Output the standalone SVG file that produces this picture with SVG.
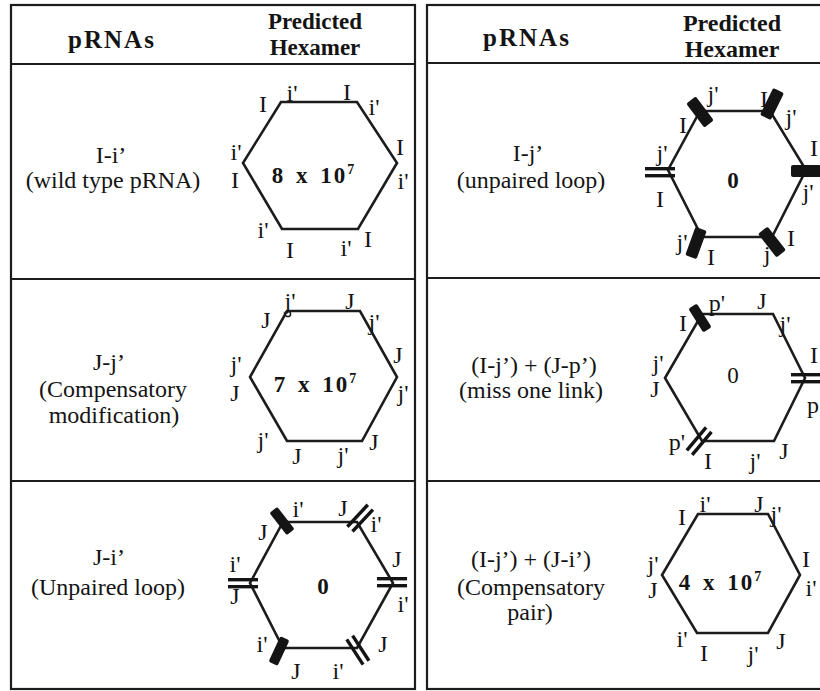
<svg xmlns="http://www.w3.org/2000/svg" xmlns:xlink="http://www.w3.org/1999/xlink" width="820" height="691" viewBox="0 0 820 691">
<style>
.frame{fill:none;stroke:#1c1c1c;stroke-width:2.2}
.hex{fill:none;stroke:#1c1c1c;stroke-width:2.6;stroke-linejoin:miter}
text{font-family:"Liberation Serif","Times New Roman",serif;fill:#141414;text-anchor:middle}
.hdr{font-size:23px;font-weight:bold}
.body{font-size:24px}
.lbl{font-size:24px}
.num{font-size:23px;font-weight:bold;letter-spacing:2px;word-spacing:3px}
.mk{fill:#141414}
</style>
<defs>
<g id="bar"><rect class="mk" x="-14" y="-5" width="28" height="10" rx="2"/></g>
<g id="wbar"><rect class="mk" x="-15" y="-6" width="30" height="12" rx="2"/></g>
<g id="dbl"><rect class="mk" x="-15" y="-5" width="30" height="3.4"/><rect class="mk" x="-15" y="2" width="30" height="3.4"/></g>
</defs>
<rect width="820" height="691" fill="#ffffff"/>

<g id="frames">
<rect class="frame" x="11" y="5" width="404" height="684"/>
<line class="frame" x1="11" y1="64" x2="415" y2="64"/>
<line class="frame" x1="11" y1="279" x2="415" y2="279"/>
<line class="frame" x1="11" y1="481" x2="415" y2="481"/>
<rect class="frame" x="427" y="5" width="410" height="684"/>
<line class="frame" x1="427" y1="63" x2="820" y2="63"/>
<line class="frame" x1="427" y1="278" x2="820" y2="278"/>
<line class="frame" x1="427" y1="481" x2="820" y2="481"/>
</g>

<g id="header-left">
<text class="hdr" x="112" y="48" style="font-size:25px;letter-spacing:2px">pRNAs</text>
<text class="hdr" x="315" y="29">Predicted</text>
<text class="hdr" x="315" y="55">Hexamer</text>
</g>
<g id="header-right">
<text class="hdr" x="527" y="46" style="font-size:25px;letter-spacing:2px">pRNAs</text>
<text class="hdr" x="732" y="31" style="font-size:24px;font-weight:600">Predicted</text>
<text class="hdr" x="732" y="57" style="font-size:24px;font-weight:600">Hexamer</text>
</g>

<g id="row1-left">
<text class="body" x="111" y="163">I-i’</text>
<text class="body" x="113" y="188">(wild type pRNA)</text>
<polygon class="hex" points="281,102 357,102 397,163 358,229 282,229 243,163"/>
<text class="num" x="314" y="183">8 x 10<tspan dy="-9" font-size="14">7</tspan></text>
<text class="lbl" x="263" y="112">I</text>
<text class="lbl" x="292" y="101">i'</text>
<text class="lbl" x="347" y="100">I</text>
<text class="lbl" x="374" y="115">i'</text>
<text class="lbl" x="400" y="155">I</text>
<text class="lbl" x="403" y="189">i'</text>
<text class="lbl" x="236" y="160">i'</text>
<text class="lbl" x="235" y="188">I</text>
<text class="lbl" x="263" y="238">i'</text>
<text class="lbl" x="290" y="258">I</text>
<text class="lbl" x="346" y="256">i'</text>
<text class="lbl" x="368" y="247">I</text>
</g>

<g id="row2-left">
<text class="body" x="109" y="370">J-j’</text>
<text class="body" x="113" y="397">(Compensatory</text>
<text class="body" x="114" y="423">modification)</text>
<polygon class="hex" points="287,311 360,311 397,377 362,441 287,441 250,377"/>
<circle cx="288" cy="314" r="2.6" fill="#fff" stroke="#1c1c1c" stroke-width="1.5"/>
<text class="num" x="316" y="392">7 x 10<tspan dy="-9" font-size="14">7</tspan></text>
<text class="lbl" x="266" y="328">J</text>
<text class="lbl" x="290" y="309">j'</text>
<text class="lbl" x="350" y="309">J</text>
<text class="lbl" x="374" y="330">j'</text>
<text class="lbl" x="398" y="363">J</text>
<text class="lbl" x="403" y="401">j'</text>
<text class="lbl" x="236" y="372">j'</text>
<text class="lbl" x="235" y="401">J</text>
<text class="lbl" x="263" y="448">j'</text>
<text class="lbl" x="297" y="464">J</text>
<text class="lbl" x="343" y="463">j'</text>
<text class="lbl" x="374" y="450">J</text>
</g>

<g id="row3-left">
<text class="body" x="109" y="565">J-i’</text>
<text class="body" x="108" y="595">(Unpaired loop)</text>
<polygon class="hex" points="283,522 357,522 393,583 357,648 283,648 250,583"/>
<use xlink:href="#bar" transform="translate(282,521) rotate(52)"/>
<use xlink:href="#dbl" transform="translate(360,518) rotate(-47)"/>
<use xlink:href="#dbl" transform="translate(392,582)"/>
<use xlink:href="#dbl" transform="translate(243,583)"/>
<use xlink:href="#bar" transform="translate(279,651) rotate(-65)"/>
<use xlink:href="#dbl" transform="translate(358,650) rotate(57)"/>
<text class="num" x="324" y="594">0</text>
<text class="lbl" x="263" y="540">J</text>
<text class="lbl" x="298" y="517">i'</text>
<text class="lbl" x="343" y="516">J</text>
<text class="lbl" x="376" y="532">i'</text>
<text class="lbl" x="397" y="567">J</text>
<text class="lbl" x="403" y="612">i'</text>
<text class="lbl" x="235" y="572">i'</text>
<text class="lbl" x="235" y="604">J</text>
<text class="lbl" x="262" y="652">i'</text>
<text class="lbl" x="296" y="679">J</text>
<text class="lbl" x="338" y="679">i'</text>
<text class="lbl" x="383" y="652">J</text>
</g>

<g id="row1-right">
<text class="body" x="528" y="161">I-j’</text>
<text class="body" x="531" y="188">(unpaired loop)</text>
<polygon class="hex" points="700,111 770,111 806,170 772,237 702,237 668,170"/>
<use xlink:href="#wbar" transform="translate(700,112) rotate(53)"/>
<use xlink:href="#wbar" transform="translate(772,104) rotate(-64)"/>
<use xlink:href="#dbl" transform="translate(660,172)"/>
<use xlink:href="#wbar" transform="translate(806,171)"/>
<use xlink:href="#wbar" transform="translate(696,243) rotate(-70)"/>
<use xlink:href="#wbar" transform="translate(772,242) rotate(52)"/>
<text class="num" x="734" y="188">0</text>
<text class="lbl" x="683" y="133">I</text>
<text class="lbl" x="713" y="102">j'</text>
<text class="lbl" x="764" y="107">I</text>
<text class="lbl" x="791" y="125">j'</text>
<text class="lbl" x="814" y="156">I</text>
<text class="lbl" x="808" y="200">j'</text>
<text class="lbl" x="662" y="161">j'</text>
<text class="lbl" x="660" y="207">I</text>
<text class="lbl" x="682" y="250">j'</text>
<text class="lbl" x="711" y="265">I</text>
<text class="lbl" x="767" y="262">j</text>
<text class="lbl" x="791" y="246">I</text>
</g>

<g id="row2-right">
<text class="body" x="534" y="373">(I-j’) + (J-p’)</text>
<text class="body" x="531" y="398">(miss one link)</text>
<polygon class="hex" points="702,314 773,314 805,378 774,441 702,441 665,378"/>
<use xlink:href="#bar" transform="translate(700,318) rotate(58)"/>
<use xlink:href="#dbl" transform="translate(699,441) rotate(-50)"/>
<use xlink:href="#dbl" transform="translate(806,378)"/>
<text class="num" x="734" y="383" style="font-weight:normal">0</text>
<text class="lbl" x="683" y="331">I</text>
<text class="lbl" x="717" y="311">p'</text>
<text class="lbl" x="762" y="309">J</text>
<text class="lbl" x="785" y="332">j'</text>
<text class="lbl" x="814" y="363">I</text>
<text class="lbl" x="813" y="413">p</text>
<text class="lbl" x="658" y="371">j'</text>
<text class="lbl" x="655" y="397">J</text>
<text class="lbl" x="677" y="450">p'</text>
<text class="lbl" x="708" y="469">I</text>
<text class="lbl" x="755" y="469">j'</text>
<text class="lbl" x="784" y="459">J</text>
</g>

<g id="row3-right">
<text class="body" x="531" y="567">(I-j’) + (J-i’)</text>
<text class="body" x="531" y="595">(Compensatory</text>
<text class="body" x="530" y="620">pair)</text>
<polygon class="hex" points="698,514 768,514 800,575 768,633 697,633 662,575"/>
<text class="num" x="721" y="590">4 x 10<tspan dy="-9" font-size="14">7</tspan></text>
<text class="lbl" x="682" y="525">I</text>
<text class="lbl" x="705" y="512">i'</text>
<text class="lbl" x="759" y="512">J</text>
<text class="lbl" x="776" y="522">j'</text>
<text class="lbl" x="806" y="567">I</text>
<text class="lbl" x="811" y="596">i'</text>
<text class="lbl" x="653" y="572">j'</text>
<text class="lbl" x="653" y="598">J</text>
<text class="lbl" x="682" y="647">i'</text>
<text class="lbl" x="704" y="661">I</text>
<text class="lbl" x="753" y="662">j'</text>
<text class="lbl" x="781" y="649">J</text>
</g>
</svg>
